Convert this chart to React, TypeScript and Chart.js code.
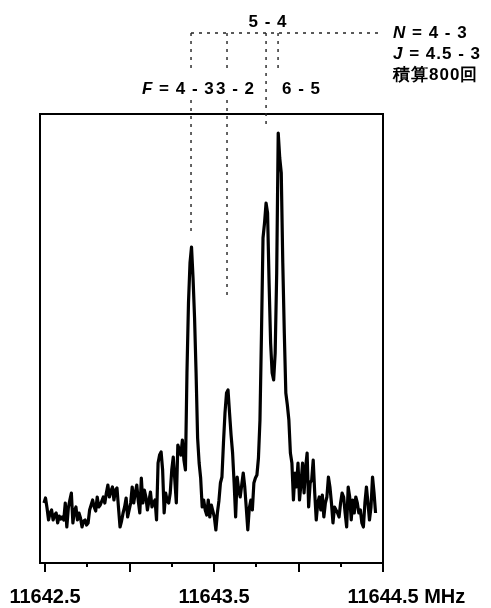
import React, { useEffect, useRef } from "react";
import { Chart, registerables } from "chart.js";

Chart.register(...registerables);

// Spectrum sampling grid (MHz)
const freqStart = 11642.494;
const freqStep = 0.009;

// Signal intensity (arbitrary units)
const intensity = [
  60, 65, 55, 43, 50, 53, 43, 48, 50, 40,
  47, 44, 46, 43, 60, 36, 55, 63, 70, 40,
  52, 56, 43, 50, 45, 36, 42, 43, 38, 40,
  53, 58, 63, 56, 52, 66, 56, 58, 62, 66,
  60, 70, 78, 66, 72, 76, 63, 73, 75, 55,
  36, 42, 50, 56, 65, 46, 53, 60, 76, 60,
  70, 78, 62, 50, 85, 60, 73, 66, 53, 62,
  71, 56, 60, 63, 43, 100, 108, 111, 93, 50,
  70, 62, 60, 70, 93, 106, 83, 60, 118, 113,
  108, 123, 103, 93, 190, 260, 300, 316, 285, 245,
  190, 125, 100, 85, 56, 63, 53, 48, 63, 46,
  58, 52, 46, 33, 50, 62, 80, 86, 120, 150,
  170, 173, 150, 128, 110, 80, 46, 86, 73, 66,
  78, 90, 76, 55, 33, 55, 63, 53, 80, 85,
  88, 105, 143, 230, 325, 340, 360, 350, 280, 220,
  190, 183, 210, 290, 430, 405, 390, 300, 230, 170,
  158, 143, 110, 100, 63, 90, 76, 100, 63, 80,
  100, 70, 95, 110, 56, 80, 83, 103, 70, 43,
  60, 66, 53, 68, 46, 60, 66, 86, 76, 60,
  40, 56, 53, 50, 46, 60, 70, 66, 50, 36,
  76, 66, 43, 63, 50, 66, 60, 50, 53, 40,
  36, 60, 76, 60, 43, 56, 86, 70, 50,
];

// Axis ranges
const xMin = 11642.4704;
const xMax = 11644.5;
const yMin = 0;
const yMax = 449;

// Axis ticks
const majorTicks = [11642.5, 11643.0, 11643.5, 11644.0, 11644.5];
const minorTicks = [11642.75, 11643.25, 11643.75, 11644.25];
const tickLabelValues = [11642.5, 11643.5, 11644.5];
const tickLabels = ["11642.5", "11643.5", "11644.5"];
const unitLabel = "MHz";

// Hyperfine component positions (MHz) and labels
const lineFreqs = [11643.364, 11643.577, 11643.808, 11643.879];
const componentLabels = ["4 - 3", "3 - 2", "5 - 4", "6 - 5"];
const infoLines = ["4 - 3", "4.5 - 3", "積算800回"];

const FONT_FAMILY = '"Liberation Sans", Arial, Helvetica, sans-serif';

function drawRich(ctx: CanvasRenderingContext2D, parts: { t: string; italic?: boolean }[], x: number, y: number, size: number) {
  let cx = x;
  for (const p of parts) {
    ctx.font = `${p.italic ? "italic " : ""}bold ${size}px ${FONT_FAMILY}`;
    ctx.fillText(p.t, cx, y);
    cx += ctx.measureText(p.t).width;
  }
}

const annotationPlugin = {
  id: "annotations",
  afterDraw(chart: any) {
    const ctx: CanvasRenderingContext2D = chart.ctx;
    const xs = chart.scales.x;
    const { left, right, top, bottom } = chart.chartArea;
    ctx.save();

    // frame
    ctx.strokeStyle = "#000";
    ctx.lineWidth = 2;
    ctx.setLineDash([]);
    ctx.strokeRect(left, top, right - left, bottom - top);

    // ticks
    ctx.lineWidth = 2;
    for (const v of majorTicks) {
      const px = Math.round(xs.getPixelForValue(v));
      ctx.beginPath();
      ctx.moveTo(px, bottom);
      ctx.lineTo(px, bottom + 9);
      ctx.stroke();
    }
    for (const v of minorTicks) {
      const px = Math.round(xs.getPixelForValue(v));
      ctx.beginPath();
      ctx.moveTo(px, bottom);
      ctx.lineTo(px, bottom + 4);
      ctx.stroke();
    }

    // tick labels
    ctx.fillStyle = "#000";
    ctx.font = `bold 20px ${FONT_FAMILY}`;
    ctx.textBaseline = "middle";
    tickLabelValues.forEach((v, i) => {
      const px = xs.getPixelForValue(v);
      ctx.textAlign = "center";
      ctx.fillText(tickLabels[i], px, bottom + 34);
      if (i === tickLabelValues.length - 1) {
        const w = ctx.measureText(tickLabels[i]).width;
        ctx.textAlign = "left";
        ctx.fillText(" " + unitLabel, px + w / 2, bottom + 34);
      }
    });

    // dashed guide lines
    const p = lineFreqs.map((f) => xs.getPixelForValue(f));
    const hy = 33;
    ctx.strokeStyle = "#222";
    ctx.lineWidth = 1.4;
    ctx.setLineDash([3, 5]);
    ctx.beginPath();
    ctx.moveTo(p[0], hy);
    ctx.lineTo(right, hy);
    ctx.stroke();
    const segs: number[][][] = [
      [[hy, 73], [100, 232]],
      [[hy, 72], [100, 300]],
      [[hy, 128]],
      [[hy, 68]],
    ];
    segs.forEach((list, i) => {
      for (const [a, b] of list) {
        ctx.beginPath();
        ctx.moveTo(p[i], a);
        ctx.lineTo(p[i], b);
        ctx.stroke();
      }
    });
    ctx.setLineDash([]);

    // labels
    const size = 17;
    (ctx as any).letterSpacing = "1px";
    ctx.textBaseline = "middle";
    ctx.textAlign = "left";
    ctx.fillStyle = "#000";
    ctx.font = `bold ${size}px ${FONT_FAMILY}`;
    ctx.textAlign = "center";
    ctx.fillText(componentLabels[2], p[2] + 2, 22);
    ctx.textAlign = "left";
    drawRich(ctx, [{ t: "F", italic: true }, { t: " = " + componentLabels[0] }], 142, 89, size);
    drawRich(ctx, [{ t: componentLabels[1] }], 216, 89, size);
    drawRich(ctx, [{ t: componentLabels[3] }], 282, 89, size);
    const ix = right + 10;
    drawRich(ctx, [{ t: "N", italic: true }, { t: " = " + infoLines[0] }], ix, 33, size);
    drawRich(ctx, [{ t: "J", italic: true }, { t: " = " + infoLines[1] }], ix, 54, size);
    drawRich(ctx, [{ t: infoLines[2] }], ix, 75, size);

    ctx.restore();
  },
};

export default function App() {
  const canvasRef = useRef<HTMLCanvasElement | null>(null);

  useEffect(() => {
    const canvas = canvasRef.current;
    if (!canvas) return;
    const points = intensity.map((v, i) => ({ x: freqStart + i * freqStep, y: v }));
    const chart = new Chart(canvas, {
      type: "line",
      data: {
        datasets: [
          {
            data: points,
            borderColor: "#000",
            borderWidth: 3.2,
            pointRadius: 0,
            tension: 0,
            fill: false,
            borderJoinStyle: "round",
          },
        ],
      },
      options: {
        responsive: false,
        animation: false,
        devicePixelRatio: 1,
        layout: { padding: { left: 40, right: 108, top: 114, bottom: 45 } },
        scales: {
          x: { type: "linear", min: xMin, max: xMax, display: false },
          y: { type: "linear", min: yMin, max: yMax, display: false },
        },
        plugins: {
          legend: { display: false },
          tooltip: { enabled: false },
        },
      },
      plugins: [annotationPlugin],
    } as any);
    return () => chart.destroy();
  }, []);

  return (
    <div style={{ position: "absolute", left: 0, top: 0, width: 491, height: 608, background: "#fff" }}>
      <canvas ref={canvasRef} width={491} height={608} style={{ display: "block" }} />
    </div>
  );
}
